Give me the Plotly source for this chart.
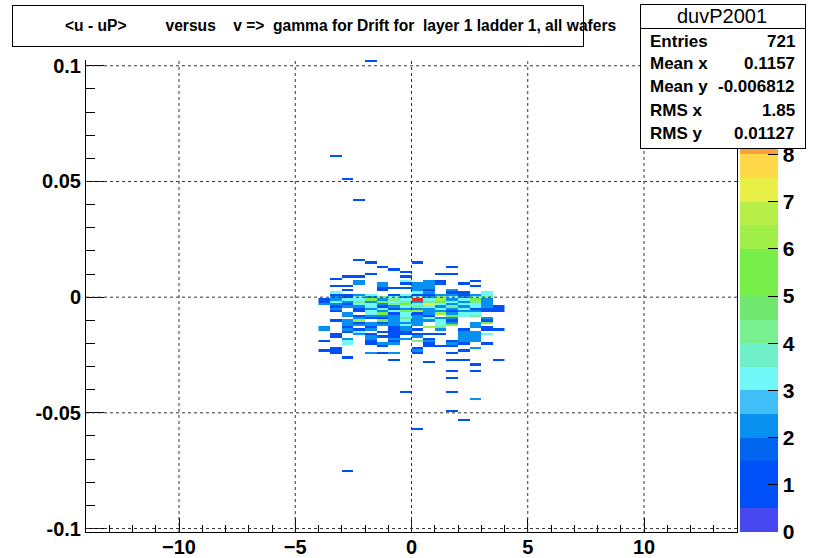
import plotly.graph_objects as go

# ---------------- data ----------------
x_bins = [-3.75, -3.25, -2.75, -2.25, -1.75, -1.25, -0.75, -0.25,
          0.25, 0.75, 1.25, 1.75, 2.25, 2.75, 3.25, 3.75]

# y centres of rows (bin width 0.001) and counts per x bin
row_y = [0.102, 0.061, 0.051, 0.042,
         0.016, 0.015, 0.013, 0.012, 0.011, 0.010, 0.009, 0.008,
         0.007, 0.006, 0.005, 0.004, 0.003, 0.002, 0.001, 0.000,
         -0.001, -0.002, -0.003, -0.004, -0.005, -0.006, -0.007, -0.008,
         -0.009, -0.010, -0.011, -0.012, -0.013, -0.014, -0.015, -0.016,
         -0.017, -0.018, -0.019, -0.020, -0.021, -0.022, -0.023, -0.024,
         -0.026, -0.027, -0.028, -0.029, -0.032, -0.035, -0.041, -0.044,
         -0.049, -0.053, -0.057, -0.075]
row_counts = [
    [0,0,0,0,1,0,0,0,0,0,0,0,0,0,0,0],
    [0,1,0,0,0,0,0,0,0,0,0,0,0,0,0,0],
    [0,0,1,0,0,0,0,0,0,0,0,0,0,0,0,0],
    [0,0,0,1,0,0,0,0,0,0,0,0,0,0,0,0],
    [0,0,0,1,0,0,0,0,0,0,0,0,0,0,0,0],
    [0,0,0,0,1,0,0,0,1,0,0,0,0,0,0,0],
    [0,0,0,0,0,1,0,0,0,0,0,1,0,0,0,0],
    [0,0,0,0,0,0,1,0,0,0,0,0,0,0,0,0],
    [0,0,0,0,0,0,0,1,0,0,0,0,0,0,0,0],
    [0,0,0,0,1,0,0,0,0,0,1,1,0,0,0,0],
    [0,0,1,1,0,0,0,1,0,0,0,0,0,0,0,0],
    [0,1,0,0,0,0,0,0,0,0,0,0,0,0,0,0],
    [0,0,0,2,0,0,0,3,0,2,1,0,0,1,0,0],
    [0,0,0,2,0,2,0,1,2,2,1,0,1,0,0,0],
    [0,1,1,0,0,2,0,0,2,2,0,0,0,1,0,0],
    [0,0,0,0,0,1,1,1,2,2,0,0,0,0,0,0],
    [0,0,1,0,0,1,0,0,2,1,0,2,0,0,0,0],
    [0,3,0,0,0,0,0,0,3,2,0,1,1,0,3,0],
    [0,1,1,2,3,0,1,3,1,1,2,2,1,2,3,0],
    [0,2,1,3,2,4,3,2,3,2,4,3,2,3,4,0],
    [1,2,3,3,5,2,4,3,10,3,6,2,3,5,2,0],
    [1,3,2,4,2,5,3,4,2,4,5,3,2,4,2,0],
    [2,2,1,3,3,2,4,5,3,7,3,2,3,3,2,0],
    [0,1,2,2,3,1,2,3,4,3,2,4,2,3,2,1],
    [0,2,0,1,2,3,1,2,2,2,3,2,3,1,1,1],
    [0,1,0,1,3,2,3,5,6,2,2,1,2,2,1,1],
    [0,0,2,0,3,5,1,3,1,2,6,2,3,3,0,0],
    [0,0,2,1,2,2,2,3,2,1,0,5,3,4,0,0],
    [0,0,0,2,1,1,2,4,2,3,2,2,0,0,2,0],
    [0,1,2,6,0,5,2,3,2,2,3,1,0,0,1,0],
    [0,0,2,1,2,1,2,2,2,0,3,2,0,2,5,0],
    [0,0,2,2,2,2,2,3,2,0,3,5,0,2,0,0],
    [2,0,1,0,1,0,1,2,0,6,4,0,0,2,1,0],
    [2,0,2,1,2,0,1,2,1,0,2,0,1,0,1,1],
    [0,0,1,3,0,1,1,1,0,0,0,0,2,2,0,0],
    [0,1,0,2,1,0,1,1,1,1,1,0,2,2,3,0],
    [0,1,0,0,2,1,1,0,2,0,0,0,2,2,0,0],
    [0,0,2,0,2,0,2,2,0,1,0,0,2,2,0,0],
    [1,0,3,0,1,0,1,0,4,2,0,1,2,2,0,0],
    [0,0,3,0,1,2,2,0,0,1,0,2,1,0,1,0],
    [0,0,0,0,0,1,0,0,0,1,1,1,0,0,0,0],
    [0,1,0,0,0,0,0,0,1,0,0,0,0,2,0,0],
    [1,1,0,0,0,0,0,0,2,0,0,0,1,0,0,0],
    [0,1,0,0,2,1,2,0,1,0,0,1,0,0,0,0],
    [0,0,1,0,0,0,0,0,0,0,0,0,0,0,0,0],
    [0,0,0,0,0,0,1,0,0,0,0,1,1,0,0,1],
    [0,0,0,0,0,0,0,0,0,1,0,0,0,0,0,0],
    [0,0,0,0,0,0,0,0,0,0,0,0,0,1,0,0],
    [0,0,0,0,0,0,0,0,0,0,0,1,0,1,0,0],
    [0,0,0,0,0,0,0,0,0,0,0,1,0,0,0,0],
    [0,0,0,0,0,0,0,1,0,0,0,1,0,0,0,0],
    [0,0,0,0,0,0,0,0,0,0,0,0,0,2,0,0],
    [0,0,0,0,0,0,0,0,0,0,0,1,0,0,0,0],
    [0,0,0,0,0,0,0,0,0,0,0,0,1,0,0,0],
    [0,0,0,0,0,0,0,0,1,0,0,0,0,0,0,0],
    [0,0,1,0,0,0,0,0,0,0,0,0,0,0,0,0],
]

x_ticks = [-10, -5, 0, 5, 10]
y_ticks = [-0.1, -0.05, 0, 0.05, 0.1]
y_ticktext = ["-0.1", "-0.05", "0", "0.05", "0.1"]
z_ticks = list(range(0, 11))

band_colors = ["#4848F0", "#0050F8", "#0050F8", "#0064F0", "#0890F0",
               "#40BEF8", "#70F8F8", "#70F0C8", "#78F090", "#70E870",
               "#78EE48", "#78EE48", "#A0EE48", "#B8EE48", "#E8F048",
               "#FFD848", "#F8A040", "#F07838", "#E85030", "#E03020"]

NB = "\u00a0"
title_text = ("&lt;u - uP&gt;" + NB * 9 + "versus" + NB * 4 + "v =&gt;" + NB * 2 +
              "gamma for Drift for" + NB * 2 + "layer 1 ladder 1, all wafers")
stats_name = "duvP2001"
stats_labels = ["Entries", "Mean x", "Mean y", "RMS x", "RMS y"]
stats_values = ["721", "0.1157", "-0.006812", "1.85", "0.01127"]

# ---------------- build grid ----------------
k_vals = [round(v * 1000) for v in row_y]
k_min, k_max = min(k_vals), max(k_vals)
n_rows = k_max - k_min + 1
z = [[None] * len(x_bins) for _ in range(n_rows)]
for k, counts in zip(k_vals, row_counts):
    z[k - k_min] = [c if c > 0 else None for c in counts]
y_grid = [(k_min + i) / 1000 for i in range(n_rows)]

zmin, zmax = 0, 10
n_bands = len(band_colors)
eps = 1e-4
colorscale = []
for i, col in enumerate(band_colors):
    a = 0.0 if i == 0 else i / n_bands - eps
    b = 1.0 if i == n_bands - 1 else (i + 1) / n_bands - eps
    colorscale.append([a, col])
    colorscale.append([b, col])

# ---------------- layout geometry (pixels) ----------------
W, H = 817, 558
L, R, T, B = 86, 737, 60, 532
def px(xp):
    return (xp - L) / (R - L)
def py(yp):
    return (B - yp) / (B - T)

FONT = "Liberation Sans, Arial, sans-serif"

fig = go.Figure()
fig.add_trace(go.Heatmap(
    x=x_bins, y=y_grid, z=z, zmin=zmin, zmax=zmax,
    colorscale=colorscale, hoverinfo="skip", zsmooth=False,
    colorbar=dict(
        x=px(740), xanchor="left", xpad=0, y=0.5, yanchor="middle", ypad=0,
        len=1, lenmode="fraction", thickness=38, thicknessmode="pixels",
        outlinewidth=0, tickvals=z_ticks, ticks="inside", ticklen=10,
        tickcolor="black", tickwidth=1,
        tickfont=dict(family=FONT, size=21, color="black", weight="bold"),
    ),
))

axis_font = dict(family=FONT, size=20, color="black", weight="bold")
fig.update_layout(
    width=W, height=H,
    margin=dict(l=L, r=W - R, t=T, b=H - B, pad=0, autoexpand=False),
    paper_bgcolor="white", plot_bgcolor="white",
    xaxis=dict(range=[-14, 14], tickvals=x_ticks, ticks="inside", ticklen=14,
               tickcolor="black", tickwidth=1, showline=True, linecolor="black",
               linewidth=1, showgrid=False, zeroline=False, ticklabelstandoff=-3,
               tickfont=dict(family=FONT, size=20, color="black", weight="bold"),
               minor=dict(dtick=1, ticks="inside", ticklen=7, tickcolor="black", showgrid=False),
               fixedrange=True),
    yaxis=dict(range=[-0.1015, 0.1025], tickvals=y_ticks, ticktext=y_ticktext,
               ticks="inside", ticklen=18, tickcolor="black", tickwidth=1,
               showline=True, mirror=True, linecolor="black", linewidth=1,
               showgrid=False, zeroline=False, tickfont=axis_font,
               minor=dict(dtick=0.01, tick0=0, ticks="inside", ticklen=9, tickcolor="black", showgrid=False),
               fixedrange=True),
    showlegend=False,
)

# dotted grid over the cells at the major ticks
shapes = []
for xv in x_ticks:
    shapes.append(dict(type="line", xref="x", yref="paper", x0=xv, x1=xv, y0=0, y1=1,
                       line=dict(color="#333333", width=1, dash="dot"), layer="above"))
for yv in y_ticks:
    shapes.append(dict(type="line", xref="paper", yref="y", x0=0, x1=1, y0=yv, y1=yv,
                       line=dict(color="#333333", width=1, dash="dot"), layer="above"))
fig.update_layout(shapes=shapes)

ann = []
# title box
ann.append(dict(xref="paper", yref="paper", x=px(12), y=py(5), xanchor="left", yanchor="top",
                text=" ", showarrow=False, width=570, height=40, bgcolor="white",
                bordercolor="black", borderwidth=1, borderpad=0))
ann.append(dict(xref="paper", yref="paper", x=px(341), y=py(25), xanchor="center", yanchor="middle",
                text=title_text, showarrow=False,
                font=dict(family=FONT, size=15.6, color="black", weight="bold")))
# stats box
ann.append(dict(xref="paper", yref="paper", x=px(640), y=py(4), xanchor="left", yanchor="top",
                text=" ", showarrow=False, width=164, height=23, bgcolor="white",
                bordercolor="black", borderwidth=1, borderpad=0))
ann.append(dict(xref="paper", yref="paper", x=px(640), y=py(28), xanchor="left", yanchor="top",
                text=" ", showarrow=False, width=164, height=119, bgcolor="white",
                bordercolor="black", borderwidth=1, borderpad=0))
ann.append(dict(xref="paper", yref="paper", x=px(722), y=py(16), xanchor="center", yanchor="middle",
                text=stats_name, showarrow=False,
                font=dict(family=FONT, size=20, color="black")))
row_pix = [41, 64, 87, 110, 133]
for lab, val, yp in zip(stats_labels, stats_values, row_pix):
    ann.append(dict(xref="paper", yref="paper", x=px(648), y=py(yp), xanchor="left", yanchor="middle",
                    text=lab, showarrow=False,
                    font=dict(family=FONT, size=17, color="black", weight="bold")))
    ann.append(dict(xref="paper", yref="paper", x=px(797), y=py(yp), xanchor="right", yanchor="middle",
                    text=val, showarrow=False,
                    font=dict(family=FONT, size=17, color="black", weight="bold")))
fig.update_layout(annotations=ann)

fig.write_html("out.html", config={"displayModeBar": False},
               post_script="document.body.style.margin='0px';")
